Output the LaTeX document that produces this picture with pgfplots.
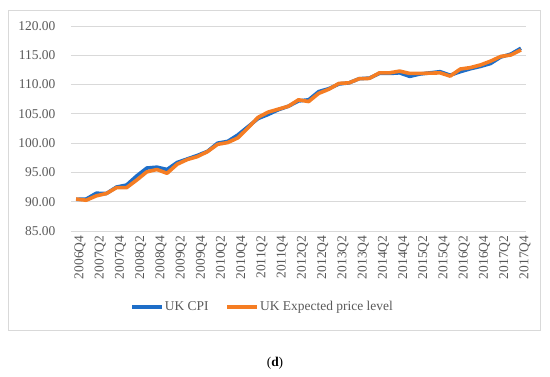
\documentclass[border=0pt]{standalone}
\usepackage{fontspec}
\setmainfont{Liberation Serif}
\usepackage{pgfplots}
\pgfplotsset{compat=1.18}
\definecolor{cpiblue}{RGB}{30,110,200}
\definecolor{exporange}{RGB}{245,125,35}
\definecolor{txtgray}{RGB}{89,89,89}
\definecolor{gridgray}{RGB}{217,217,217}
\newcommand{\chartfont}{\fontsize{13.5}{16}\selectfont}
\begin{document}
\chartfont
\begin{tikzpicture}[x=1bp,y=1bp]
\useasboundingbox (-71,-145) rectangle (479,231);
\draw[gridgray, line width=0.8bp] (-63,-99) rectangle (469,221);
\begin{axis}[
  at={(0,0)}, anchor=south west,
  scale only axis, width=455bp, height=205bp,
  xmin=-0.5, xmax=44.5, ymin=85, ymax=120,
  axis line style={draw=none},
  tick style={draw=none},
  ytick={85,90,...,120},
  ymajorgrids, grid style={gridgray, line width=0.9bp},
  xtick={0,2,...,44},
  xticklabels={2006Q4,2007Q2,2007Q4,2008Q2,2008Q4,2009Q2,2009Q4,2010Q2,2010Q4,2011Q2,2011Q4,2012Q2,2012Q4,2013Q2,2013Q4,2014Q2,2014Q4,2015Q2,2015Q4,2016Q2,2016Q4,2017Q2,2017Q4},
  xticklabel style={rotate=90, anchor=east, font=\chartfont, text=txtgray, yshift=-4bp},
  yticklabel style={font=\chartfont, text=txtgray, xshift=-11bp},
  /pgf/number format/assume math mode=true,
  yticklabel={\pgfmathprintnumber[fixed, fixed zerofill, precision=2]{\tick}},
  legend style={at={(0.42,-0.37)}, anchor=center, draw=none, fill=none,
    legend columns=2, font=\chartfont, text=txtgray,
    /tikz/every even column/.append style={column sep=16bp},
    nodes={inner sep=1bp}},
  legend image code/.code={\draw[#1, line width=3.5bp] (0bp,0bp) -- (30bp,0bp);},
  clip=false,
]
\addplot[cpiblue, line width=3.6bp, line join=round] coordinates {
(0,90.40) (1,90.45) (2,91.45) (3,91.40) (4,92.50) (5,92.85) (6,94.40) (7,95.75) (8,95.90) (9,95.50)
(10,96.70) (11,97.30) (12,97.90) (13,98.60) (14,100.00) (15,100.30) (16,101.40) (17,102.80) (18,104.20) (19,104.90)
(20,105.70) (21,106.30) (22,107.20) (23,107.40) (24,108.80) (25,109.30) (26,110.10) (27,110.30) (28,111.00) (29,111.10)
(30,111.90) (31,111.90) (32,112.00) (33,111.40) (34,111.80) (35,112.00) (36,112.20) (37,111.60) (38,112.20) (39,112.70)
(40,113.10) (41,113.60) (42,114.70) (43,115.20) (44,116.20)
};
\addlegendentry{UK CPI}
\addplot[exporange, line width=3.6bp, line join=round] coordinates {
(0,90.46) (1,90.25) (2,91.00) (3,91.40) (4,92.40) (5,92.40) (6,93.70) (7,95.10) (8,95.50) (9,94.85)
(10,96.40) (11,97.20) (12,97.70) (13,98.55) (14,99.80) (15,100.10) (16,100.90) (17,102.60) (18,104.40) (19,105.30)
(20,105.80) (21,106.30) (22,107.40) (23,107.10) (24,108.50) (25,109.20) (26,110.20) (27,110.30) (28,111.00) (29,111.05)
(30,112.00) (31,112.00) (32,112.30) (33,111.90) (34,111.90) (35,111.95) (36,112.00) (37,111.45) (38,112.65) (39,112.90)
(40,113.35) (41,114.00) (42,114.80) (43,115.05) (44,115.90)
};
\addlegendentry{UK Expected price level}
\end{axis}
\node[font=\chartfont] at (204,-132) {(\textbf{d})};
\end{tikzpicture}
\end{document}
